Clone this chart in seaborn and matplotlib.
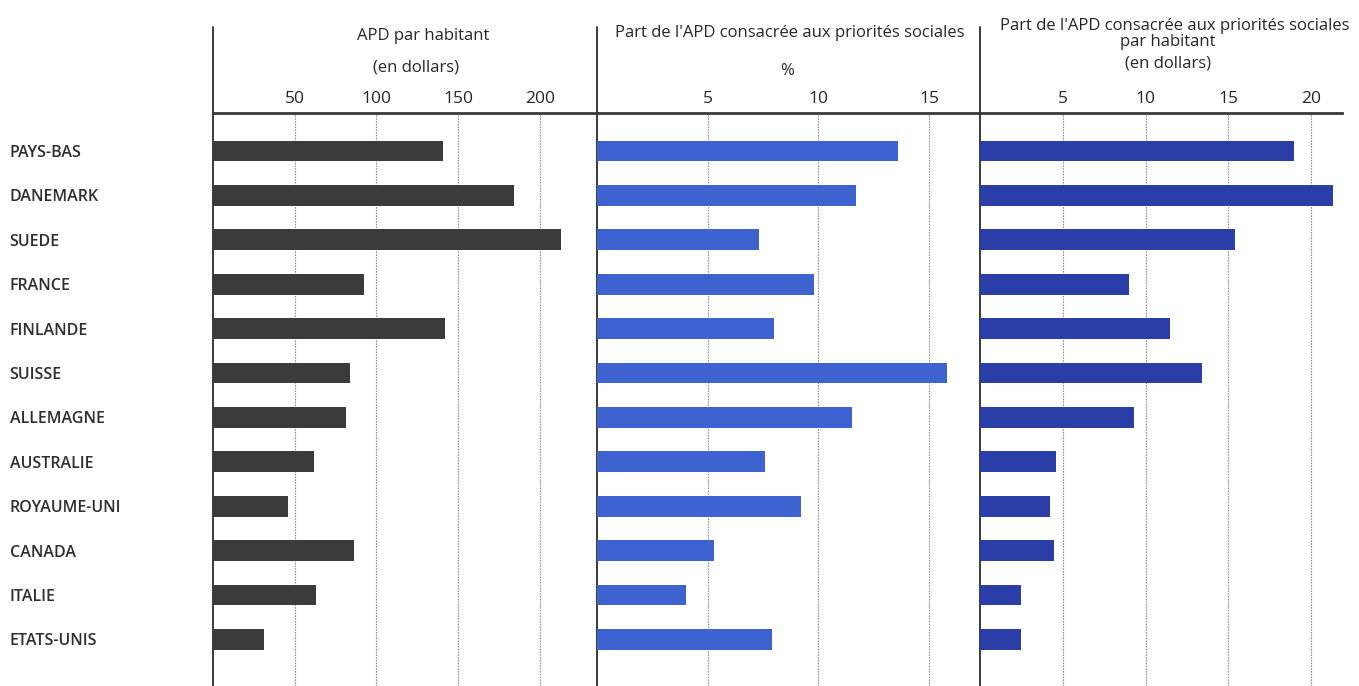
import matplotlib
matplotlib.use("Agg")
import matplotlib.pyplot as plt
import seaborn as sns
import pandas as pd
from matplotlib.lines import Line2D

# Données par pays donneur
countries = ["PAYS-BAS", "DANEMARK", "SUEDE", "FRANCE", "FINLANDE", "SUISSE",
             "ALLEMAGNE", "AUSTRALIE", "ROYAUME-UNI", "CANADA", "ITALIE", "ETATS-UNIS"]
apd_par_habitant = [140.6, 184.3, 213.1, 92.4, 141.8, 84.0, 81.4, 61.5, 45.6, 86.1, 63.2, 30.9]
part_priorites_pct = [13.6, 11.7, 7.3, 9.8, 8.0, 15.8, 11.5, 7.6, 9.2, 5.3, 4.0, 7.9]
priorites_par_habitant = [19.0, 21.3, 15.4, 9.0, 11.5, 13.4, 9.3, 4.6, 4.2, 4.5, 2.5, 2.5]

ticks_apd = [50, 100, 150, 200]
ticks_pct = [5, 10, 15]
ticks_soc = [5, 10, 15, 20]

titles_apd = ["APD par habitant", "(en dollars)"]
titles_pct = ["Part de l'APD consacrée aux priorités sociales", "%"]
titles_soc = ["Part de l'APD consacrée aux priorités sociales", "par habitant", "(en dollars)"]

df = pd.DataFrame({
    "pays": countries,
    "apd": apd_par_habitant,
    "pct": part_priorites_pct,
    "soc": priorites_par_habitant,
})

sns.set_style("white")
plt.rcParams["font.family"] = ["Open Sans", "DejaVu Sans"]

W, H = 1359, 686
fig = plt.figure(figsize=(W / 100, H / 100), dpi=100)
TEXT = "#262626"
LINE = "#3a3a3a"

top_px, bot_px = 113, 686
label_left_px = 9.5


def make_axes(x0, x1):
    return fig.add_axes([x0 / W, 1 - bot_px / H, (x1 - x0) / W, (bot_px - top_px) / H])


panels = [
    # (x-range px, column, colour, xmax, ticks, title lines with (x, baseline) px)
    ((213, 597), "apd", "#3b3b3b", 234.9, ticks_apd,
     [(titles_apd[0], 423, 40), (titles_apd[1], 416, 72)]),
    ((597, 980), "pct", "#3e62cf", 17.3, ticks_pct,
     [(titles_pct[0], 790, 37), (titles_pct[1], 787, 75)]),
    ((980, 1342), "soc", "#2b3ea8", 21.87, ticks_soc,
     [(titles_soc[0], 1175, 30), (titles_soc[1], 1168, 46), (titles_soc[2], 1168, 68)]),
]

axes = []
for i, ((x0, x1), col, color, xmax, ticks, title_lines) in enumerate(panels):
    ax = make_axes(x0, x1)
    sns.barplot(data=df, x=col, y="pays", orient="h", ax=ax, color=color,
                saturation=1, width=0.47, edgecolor="none", linewidth=0, zorder=3)
    ax.set_xlim(0, xmax)
    ax.set_ylim(len(countries) - 1 + 1.05, -0.855)
    ax.set_xlabel("")
    ax.set_ylabel("")
    ax.set_facecolor("none")

    ax.xaxis.tick_top()
    ax.set_xticks(ticks)
    ax.set_xticklabels([str(t) for t in ticks])
    ax.tick_params(axis="x", length=0, pad=4, labelsize=12.5, labelcolor=TEXT)
    ax.grid(axis="x", color="#8d929c", linestyle=(0, (1.5, 1.0)), linewidth=0.8, zorder=1)
    ax.grid(axis="y", visible=False)

    for s in ("right", "bottom"):
        ax.spines[s].set_visible(False)
    ax.spines["top"].set_color(LINE)
    ax.spines["top"].set_linewidth(2.0)
    ax.spines["left"].set_color(LINE)
    ax.spines["left"].set_linewidth(1.4)

    # vertical divider continues up through the header
    ext = (bot_px - 27) / (bot_px - top_px)
    ax.add_line(Line2D([0, 0], [1, ext], transform=ax.transAxes, color=LINE,
                       linewidth=1.4, clip_on=False))

    if i == 0:
        ax.tick_params(axis="y", length=0, pad=(x0 - label_left_px) * 0.72,
                       labelsize=11.5, labelcolor="#2e2e2e")
        for lab in ax.get_yticklabels():
            lab.set_horizontalalignment("left")
            lab.set_fontweight("semibold")
    else:
        ax.tick_params(axis="y", length=0, labelleft=False)

    for text, xc, yb in title_lines:
        fig.text(xc / W, 1 - yb / H, text, ha="center", va="baseline",
                 fontsize=12, color=TEXT)
    axes.append(ax)

fig.savefig("out.png", dpi=100)
